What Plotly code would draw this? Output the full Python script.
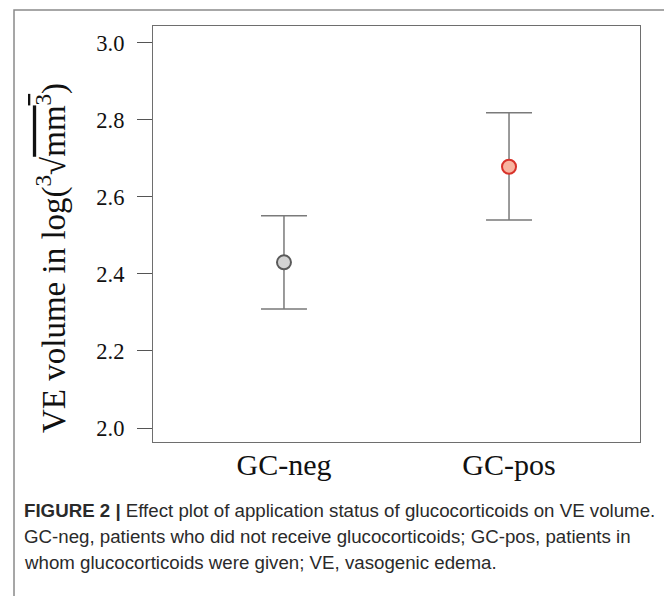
import plotly.graph_objects as go

categories = ["GC-neg", "GC-pos"]
means = [2.430, 2.678]
upper = [2.551, 2.818]
lower = [2.309, 2.540]
fill_colors = ["#d3d3d3", "#f8b4a0"]
edge_colors = ["#5a5a5a", "#d8322a"]

y_ticks = [2.0, 2.2, 2.4, 2.6, 2.8, 3.0]
y_tick_labels = ["2.0", "2.2", "2.4", "2.6", "2.8", "3.0"]

y_title = "VE volume in log(<sup>3</sup>√<span style='text-decoration:overline'>mm<sup>3</sup></span>)"
caption_lines = [
    "<b>FIGURE 2 |</b> Effect plot of application status of glucocorticoids on VE volume.",
    "GC-neg, patients who did not receive glucocorticoids; GC-pos, patients in",
    "whom glucocorticoids were given; VE, vasogenic edema.",
]

fig = go.Figure()
for i, cat in enumerate(categories):
    fig.add_trace(go.Scatter(
        x=[cat], y=[means[i]],
        mode="markers",
        marker=dict(size=14, color=fill_colors[i], line=dict(color=edge_colors[i], width=2)),
        error_y=dict(type="data", symmetric=False,
                     array=[upper[i] - means[i]], arrayminus=[means[i] - lower[i]],
                     color="#7a7a7a", thickness=1.5, width=23),
        showlegend=False,
    ))

serif = "Liberation Serif, Times New Roman, serif"

# plot area in figure pixels: x 145..632, y 18..434
fig.update_layout(
    width=664, height=588,
    margin=dict(l=145, r=32, t=18, b=154),
    paper_bgcolor="white", plot_bgcolor="white",
    xaxis=dict(
        type="category", range=[-0.582, 1.582],
        showgrid=False, zeroline=False,
        showline=True, mirror=True, linecolor="#6e6e6e", linewidth=1.2,
        ticks="", tickfont=dict(family=serif, size=30, color="#111"),
        ticklabelstandoff=-4,
    ),
    yaxis=dict(
        range=[1.9637, 3.0433],
        tickvals=y_ticks, ticktext=y_tick_labels,
        showgrid=False, zeroline=False,
        showline=True, mirror=True, linecolor="#6e6e6e", linewidth=1.2,
        ticks="outside", ticklen=15, tickcolor="#555", tickwidth=1.2,
        tickfont=dict(family=serif, size=22.5, color="#111"),
        ticklabelstandoff=8,
    ),
)

# y-axis title as rotated annotation
fig.add_annotation(
    xref="paper", yref="paper", x=(43 - 145) / 487, y=(434 - 250) / 416,
    xanchor="center", yanchor="middle", textangle=-90,
    text=y_title, showarrow=False,
    font=dict(family=serif, size=33, color="#111"),
)

# outer frame
fig.add_shape(type="rect", xref="paper", yref="paper",
              x0=-0.2854, x1=1.0575, y0=-0.42, y1=1.0385,
              line=dict(color="#8a8a8a", width=1.5), fillcolor="rgba(0,0,0,0)")

line_y_px = [502, 528, 554]
for txt, ypx in zip(caption_lines, line_y_px):
    fig.add_annotation(
        xref="paper", yref="paper",
        x=(14 - 145) / 487, y=(434 - ypx) / 416,
        xanchor="left", yanchor="middle",
        text=txt, showarrow=False, align="left",
        font=dict(family="Liberation Sans, Arial, sans-serif", size=18.7, color="#2a2a2a"),
    )

fig.write_html("out.html")
